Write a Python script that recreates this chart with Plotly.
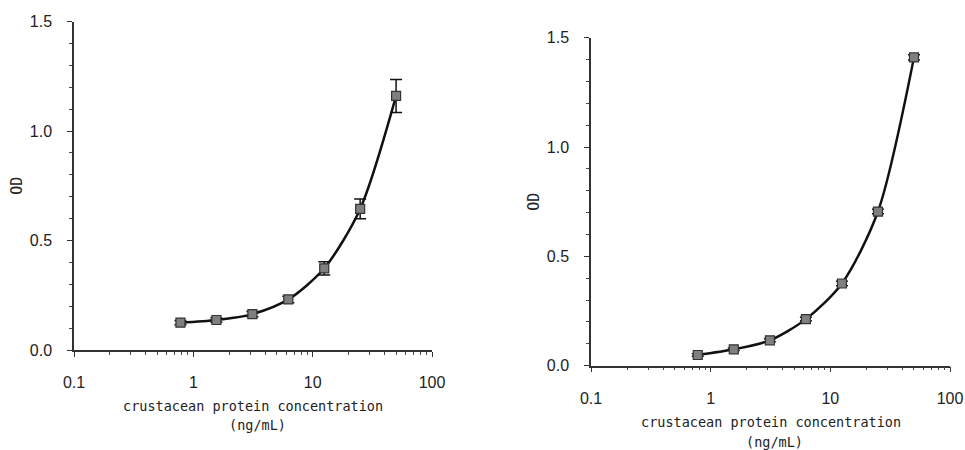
import plotly.graph_objects as go

# Data
conc = [0.78, 1.56, 3.125, 6.25, 12.5, 25, 50]
od_left = [0.125, 0.137, 0.164, 0.231, 0.373, 0.644, 1.16]
err_left = [0.010, 0.010, 0.012, 0.015, 0.030, 0.045, 0.075]
od_right = [0.049, 0.075, 0.116, 0.213, 0.376, 0.705, 1.41]
err_right = [0.006, 0.006, 0.007, 0.008, 0.010, 0.010, 0.012]
x_ticks = [0.1, 1, 10, 100]
x_ticktext = ["0.1", "1", "10", "100"]
x_minor = [m * 10 ** e for e in (-1, 0, 1) for m in range(2, 10)]
y_ticks = [0.0, 0.5, 1.0, 1.5]
y_ticktext = ["0.0", "0.5", "1.0", "1.5"]
x_title = "crustacean protein concentration"
x_unit = "(ng/mL)"
y_title = "OD"

W, H = 965, 450
TICKFONT = dict(family="Liberation Sans, Arial, sans-serif", size=16, color="#222")
TITLEFONT = dict(family="DejaVu Sans Mono, Liberation Mono, monospace", size=13.5, color="#222")
ODFONT = dict(family="DejaVu Sans Mono, Liberation Mono, monospace", size=15, color="#222")

fig = go.Figure()

panels = [
    dict(x="x", y="y", od=od_left, err=err_left),
    dict(x="x2", y="y2", od=od_right, err=err_right),
]
for p in panels:
    fig.add_trace(go.Scatter(
        x=conc, y=p["od"], xaxis=p["x"], yaxis=p["y"],
        mode="lines+markers",
        line=dict(color="#111", width=2.5, shape="spline", smoothing=0.8),
        marker=dict(symbol="square", size=9, color="#7f7f7f",
                    line=dict(color="#333", width=1.2)),
        error_y=dict(type="data", array=p["err"], visible=True,
                     color="#111", thickness=1.5, width=6),
        showlegend=False,
        hoverinfo="skip",
    ))

def xaxis_cfg(domain, anchor):
    return dict(
        type="log", range=[-1, 2], domain=domain, anchor=anchor,
        tickmode="array", tickvals=x_ticks, ticktext=x_ticktext,
        ticks="outside", ticklen=5, tickwidth=1.3, tickcolor="#333",
        minor=dict(tickmode="array", tickvals=x_minor, ticks="outside",
                   ticklen=3, tickwidth=1, tickcolor="#444", showgrid=False),
        showline=True, linecolor="#333", linewidth=1.5,
        showgrid=False, zeroline=False, tickfont=TICKFONT,
        ticklabelstandoff=12, automargin=False,
    )

def yaxis_cfg(domain, anchor):
    return dict(
        range=[0, 1.5], domain=domain, anchor=anchor,
        tickmode="array", tickvals=y_ticks, ticktext=y_ticktext,
        ticks="outside", ticklen=5, tickwidth=1.3, tickcolor="#333",
        minor=dict(ticks="outside", ticklen=3, tickwidth=1, tickcolor="#444",
                   dtick=0.1, showgrid=False),
        showline=True, linecolor="#333", linewidth=1.5,
        showgrid=False, zeroline=False, tickfont=TICKFONT,
        ticklabelstandoff=12, automargin=False,
    )

fig.update_layout(
    width=W, height=H,
    margin=dict(l=0, r=0, t=0, b=0, autoexpand=False),
    paper_bgcolor="white", plot_bgcolor="white",
    xaxis=xaxis_cfg([74 / W, 432 / W], "y"),
    yaxis=yaxis_cfg([1 - 350 / H, 1 - 21.5 / H], "x"),
    xaxis2=xaxis_cfg([591 / W, 950 / W], "y2"),
    yaxis2=yaxis_cfg([1 - 365.7 / H, 1 - 37.7 / H], "x2"),
)

# Axis titles as annotations relative to each plot's domain
for xa, ya, dy_line1, dy_line2 in [("x", "y", -56, -75), ("x2", "y2", -56, -76)]:
    fig.add_annotation(text=x_title, xref=f"{xa} domain", yref=f"{ya} domain",
                       x=0.5, y=0, yshift=dy_line1, showarrow=False,
                       font=TITLEFONT, xanchor="center", yanchor="middle")
    fig.add_annotation(text=x_unit, xref=f"{xa} domain", yref=f"{ya} domain",
                       x=0.5, y=0, yshift=dy_line2, xshift=4, showarrow=False,
                       font=TITLEFONT, xanchor="center", yanchor="middle")
    fig.add_annotation(text=y_title, xref=f"{xa} domain", yref=f"{ya} domain",
                       x=0, y=0.5, xshift=-57, showarrow=False, textangle=-90,
                       font=ODFONT, xanchor="center", yanchor="middle")

fig.write_html(
    "out.html",
    config={"displayModeBar": False},
    post_script="document.body.style.margin='0';document.body.style.overflow='hidden';",
)
